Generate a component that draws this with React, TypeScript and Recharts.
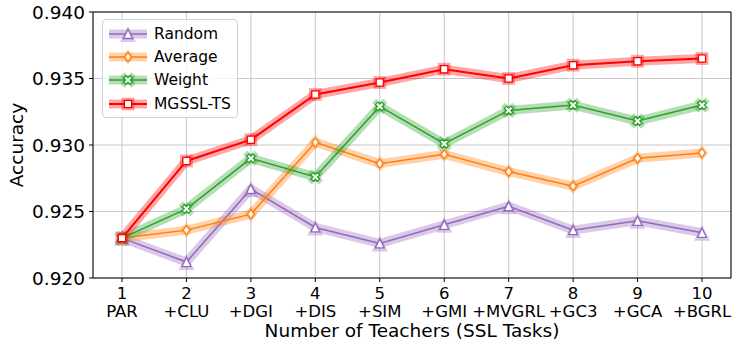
import { LineChart, Line, XAxis, YAxis, CartesianGrid, ReferenceLine } from "recharts";

const teachers = [1, 2, 3, 4, 5, 6, 7, 8, 9, 10];
const taskLabels = ["PAR", "+CLU", "+DGI", "+DIS", "+SIM", "+GMI", "+MVGRL", "+GC3", "+GCA", "+BGRL"];
const yTicks = [0.92, 0.925, 0.93, 0.935, 0.94];

const randomAcc = [0.923, 0.9212, 0.9267, 0.9238, 0.9226, 0.924, 0.9254, 0.9236, 0.9243, 0.9234];
const averageAcc = [0.923, 0.9236, 0.9248, 0.9302, 0.9286, 0.9293, 0.928, 0.9269, 0.929, 0.9294];
const weightAcc = [0.923, 0.9252, 0.929, 0.9276, 0.9329, 0.9301, 0.9326, 0.933, 0.9318, 0.933];
const mgsslAcc = [0.923, 0.9288, 0.9304, 0.9338, 0.9347, 0.9357, 0.935, 0.936, 0.9363, 0.9365];

const data = teachers.map((t, i) => ({
  t,
  label: taskLabels[i],
  random: randomAcc[i],
  average: averageAcc[i],
  weight: weightAcc[i],
  mgssl: mgsslAcc[i],
}));

type Shape = "triangle" | "diamond" | "x" | "square";

const series: { key: string; name: string; color: string; shape: Shape; width: number }[] = [
  { key: "random", name: "Random", color: "#9467bd", shape: "triangle", width: 1.5 },
  { key: "average", name: "Average", color: "#ff7f0e", shape: "diamond", width: 1.5 },
  { key: "weight", name: "Weight", color: "#2ca02c", shape: "x", width: 1.5 },
  { key: "mgssl", name: "MGSSL-TS", color: "#ff0000", shape: "square", width: 2 },
];

const FONT = "DejaVu Sans, sans-serif";

function markerPoints(shape: Shape, cx: number, cy: number, r: number): string {
  let pts: [number, number][] = [];
  if (shape === "triangle") {
    pts = [[0, -r], [-r, r], [r, r]];
  } else if (shape === "diamond") {
    pts = [[0, -r], [r * 0.75, 0], [0, r], [-r * 0.75, 0]];
  } else if (shape === "square") {
    const s = r * 0.8;
    pts = [[-s, -s], [s, -s], [s, s], [-s, s]];
  } else {
    const w = r * 0.36;
    const plus: [number, number][] = [
      [-w, -r], [w, -r], [w, -w], [r, -w], [r, w], [w, w],
      [w, r], [-w, r], [-w, w], [-r, w], [-r, -w], [-w, -w],
    ];
    const c = Math.SQRT1_2;
    pts = plus.map(([a, b]) => [a * c - b * c, a * c + b * c]);
  }
  return pts.map(([a, b]) => `${cx + a},${cy + b}`).join(" ");
}

function Marker({ shape, cx, cy, color, big }: { shape: Shape; cx: number; cy: number; color: string; big: boolean }) {
  const r = big ? 8 : 4.5;
  if (big) {
    return <polygon points={markerPoints(shape, cx, cy, r)} fill={color} fillOpacity={0.35} stroke="none" />;
  }
  return <polygon points={markerPoints(shape, cx, cy, r)} fill="#fff" stroke={color} strokeWidth={1.3} />;
}

function XTick(props: any) {
  const { x, y, payload } = props;
  const i = teachers.indexOf(payload.value);
  return (
    <text x={x} y={y} textAnchor="middle" fontFamily={FONT} fontSize={16.5} fill="#000">
      <tspan x={x} dy={15}>{payload.value}</tspan>
      <tspan x={x} dy={18}>{taskLabels[i]}</tspan>
    </text>
  );
}

function XTitle(props: any) {
  const vb = props.viewBox;
  return (
    <text x={vb.x + vb.width / 2} y={vb.y + 59} textAnchor="middle" fontFamily={FONT} fontSize={18.5} fill="#000">
      Number of Teachers (SSL Tasks)
    </text>
  );
}

function YTitle(props: any) {
  const vb = props.viewBox;
  const cy = vb.y + vb.height / 2;
  return (
    <text x={23} y={cy} transform={`rotate(-90, 23, ${cy})`} textAnchor="middle" fontFamily={FONT} fontSize={18.5} fill="#000">
      Accuracy
    </text>
  );
}

function LegendBox() {
  return (
    <div
      style={{
        position: "absolute",
        left: 102,
        top: 19,
        background: "rgba(255,255,255,0.8)",
        border: "1px solid #d0d0d0",
        borderRadius: 4,
        padding: "2px 6px 2px 5px",
        fontFamily: FONT,
        fontSize: 15.5,
        color: "#000",
      }}
    >
      {series.map((s) => (
        <div key={s.key} style={{ display: "flex", alignItems: "center", height: 23.3 }}>
          <svg width={40} height={22} style={{ marginRight: 6 }}>
            <line x1={1} y1={11} x2={39} y2={11} stroke={s.color} strokeOpacity={0.35} strokeWidth={9} />
            <Marker shape={s.shape} cx={20} cy={11} color={s.color} big />
            <line x1={1} y1={11} x2={39} y2={11} stroke={s.color} strokeWidth={s.width} />
            <Marker shape={s.shape} cx={20} cy={11} color={s.color} big={false} />
          </svg>
          <span>{s.name}</span>
        </div>
      ))}
    </div>
  );
}

export default function App() {
  return (
    <div style={{ position: "absolute", left: 0, top: 0, width: 732, height: 341, background: "#fff" }}>
      <LineChart width={732} height={341} data={data} margin={{ top: 12, right: 1, left: 0, bottom: 0 }}>
        <CartesianGrid stroke="#c8c8c8" strokeWidth={1} />
        <XAxis
          dataKey="t"
          type="number"
          domain={[0.55, 10.45]}
          ticks={teachers}
          height={63}
          tick={<XTick />}
          tickSize={4}
          tickMargin={2}
          axisLine={{ stroke: "#000" }}
          tickLine={{ stroke: "#000" }}
          label={XTitle}
          interval={0}
        />
        <YAxis
          type="number"
          domain={[0.92, 0.94]}
          ticks={yTicks}
          width={93}
          tickFormatter={(v: number) => v.toFixed(3)}
          tick={{ fontFamily: FONT, fontSize: 18.5, fill: "#000" }}
          tickSize={4}
          tickMargin={4}
          axisLine={{ stroke: "#000" }}
          tickLine={{ stroke: "#000" }}
          label={YTitle}
          allowDataOverflow
        />
        <ReferenceLine y={0.94} stroke="#000" />
        <ReferenceLine x={10.45} stroke="#000" />
        {series.flatMap((s) => [
          <Line
            key={s.key + "-shadow"}
            dataKey={s.key}
            stroke={s.color}
            strokeOpacity={0.35}
            strokeWidth={9}
            strokeLinejoin="round"
            isAnimationActive={false}
            activeDot={false}
            dot={(p: any) => <Marker key={p.index} shape={s.shape} cx={p.cx} cy={p.cy} color={s.color} big />}
          />,
          <Line
            key={s.key + "-main"}
            dataKey={s.key}
            name={s.name}
            stroke={s.color}
            strokeWidth={s.width}
            isAnimationActive={false}
            activeDot={false}
            dot={(p: any) => <Marker key={p.index} shape={s.shape} cx={p.cx} cy={p.cy} color={s.color} big={false} />}
          />,
        ])}
      </LineChart>
      <LegendBox />
    </div>
  );
}
